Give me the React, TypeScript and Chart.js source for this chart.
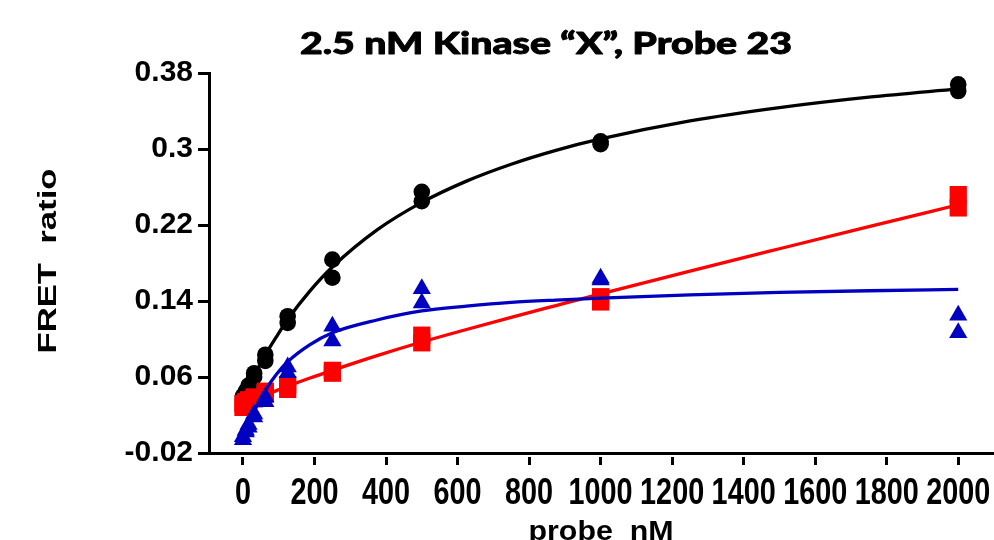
import React, { useEffect, useRef } from 'react';
import { Chart, registerables } from 'chart.js';

Chart.register(...registerables);

const chartTitle = '2.5 nM Kinase “X”, Probe 23';
const yAxisTitle = 'FRET  ratio';
const xAxisTitle = 'probe  nM';

// probe concentrations (nM)
const probeNM = [0, 7.8, 15.6, 31.25, 62.5, 125, 250, 500, 1000, 2000];

// replicate measurements (FRET ratio)
const blackRep1 = [0.040, 0.045, 0.051, 0.064, 0.0835, 0.124, 0.1835, 0.255, 0.308, 0.368];
const blackRep2 = [0.038, 0.043, 0.048, 0.060, 0.077, 0.117, 0.1645, 0.245, 0.305, 0.361];
const redRep1 = [0.032, 0.034, 0.036, 0.039, 0.045, 0.052, 0.067, 0.104, 0.1445, 0.252];
const redRep2 = [0.028, 0.031, 0.033, 0.037, 0.042, 0.047, 0.064, 0.096, 0.139, 0.238];
const blueRep1 = [-0.003, 0.004, 0.010, 0.021, 0.039, 0.0706, 0.1135, 0.153, 0.164, 0.125];
const blueRep2 = [-0.006, 0.002, 0.007, 0.018, 0.034, 0.0645, 0.098, 0.138, 0.162, 0.1066];

// fitted curves
const curveX = [0, 15.6, 31.25, 62.5, 93.75, 125, 187.5, 250, 375, 500, 625, 750, 875, 1000, 1250, 1500, 1750, 2000];
const blackCurve = [0.036, 0.0489, 0.0611, 0.0832, 0.1025, 0.1205, 0.1507, 0.1758, 0.2148, 0.2438, 0.2662, 0.284, 0.2986, 0.3106, 0.3295, 0.3436, 0.3546, 0.3633];
const redCurve = [0.032, 0.0343, 0.0366, 0.0412, 0.0457, 0.0503, 0.0589, 0.067, 0.0825, 0.0968, 0.1100, 0.1228, 0.1352, 0.1475, 0.1715, 0.195, 0.2183, 0.2413];
const blueCurve = [-0.007, 0.010, 0.024, 0.046, 0.063, 0.076, 0.094, 0.1065, 0.120, 0.1295, 0.1345, 0.1385, 0.141, 0.143, 0.1465, 0.149, 0.1508, 0.1522];

const xTickValues = [0, 200, 400, 600, 800, 1000, 1200, 1400, 1600, 1800, 2000];
const xTickLabels = ['0', '200', '400', '600', '800', '1000', '1200', '1400', '1600', '1800', '2000'];
const yTickValues = [-0.02, 0.06, 0.14, 0.22, 0.3, 0.38];
const yTickLabels = ['-0.02', '0.06', '0.14', '0.22', '0.3', '0.38'];

const BLACK = '#000000';
const RED = '#ff0000';
const BLUE = '#0000c0';

const pts = (xs: number[], ys: number[]) => xs.map((x, i) => ({ x, y: ys[i] }));

const textPlugin = {
  id: 'customTexts',
  afterDraw(chart: any) {
    const ctx: CanvasRenderingContext2D = chart.ctx;
    const draw = (text: string, font: string, x: number, y: number, sx: number, rot: boolean, w?: number, stroke?: number) => {
      ctx.save();
      ctx.font = font;
      ctx.fillStyle = '#000';
      ctx.strokeStyle = '#000';
      ctx.textAlign = 'center';
      ctx.textBaseline = 'alphabetic';
      ctx.translate(x, y);
      if (rot) ctx.rotate(-Math.PI / 2);
      let s = sx;
      if (w) s = w / ctx.measureText(text).width;
      ctx.scale(s, 1);
      ctx.fillText(text, 0, 0);
      if (stroke) {
        ctx.lineWidth = stroke;
        ctx.lineJoin = 'round';
        ctx.strokeText(text, 0, 0);
      }
      ctx.restore();
    };
    draw(chartTitle, '900 31px Lato', 546, 54, 1, false, 492, 0.9);
    draw(yAxisTitle, 'bold 26px "Liberation Sans"', 55.5, 261, 1, true, 185);
    draw(xAxisTitle, 'bold 27px "Liberation Sans"', 601, 540, 1, false, 145);
    const xs = chart.scales.x;
    xTickValues.forEach((v, i) => {
      draw(xTickLabels[i], 'bold 36px "Liberation Sans"', xs.getPixelForValue(v), 504.3, 0.8, false);
    });
  },
};

export default function App() {
  const ref = useRef<HTMLCanvasElement>(null);
  useEffect(() => {
    if (!ref.current) return;
    const pointSet = (label: string, data: any[], color: string, style: string, radius: number) => ({
      label,
      data,
      showLine: false,
      pointStyle: style,
      pointRadius: radius,
      pointHoverRadius: radius,
      pointBackgroundColor: color,
      pointBorderColor: color,
      pointBorderWidth: 0,
      backgroundColor: color,
      borderColor: color,
    });
    const curveSet = (label: string, data: any[], color: string) => ({
      label,
      data,
      showLine: true,
      pointRadius: 0,
      borderColor: color,
      borderWidth: 3.3,
      cubicInterpolationMode: 'monotone',
      fill: false,
    });
    const chart = new Chart(ref.current, {
      type: 'scatter',
      data: {
        datasets: [
          pointSet('blue', [...pts(probeNM, blueRep1), ...pts(probeNM, blueRep2)], BLUE, 'triangle', 10.5),
          curveSet('blue fit', pts(curveX, blueCurve), BLUE),
          pointSet('red', [...pts(probeNM, redRep1), ...pts(probeNM, redRep2)], RED, 'rect', 12.2),
          curveSet('red fit', pts(curveX, redCurve), RED),
          pointSet('black', [...pts(probeNM, blackRep1), ...pts(probeNM, blackRep2)], BLACK, 'circle', 8.3),
          curveSet('black fit', pts(curveX, blackCurve), BLACK),
        ] as any,
      },
      options: {
        animation: false,
        responsive: false,
        events: [],
        layout: { autoPadding: false, padding: { top: 73, left: 0, right: 0, bottom: 0 } },
        plugins: {
          legend: { display: false },
          title: { display: false },
          tooltip: { enabled: false },
        },
        scales: {
          x: {
            type: 'linear',
            min: -95,
            max: 2100,
            afterBuildTicks: (scale: any) => {
              scale.ticks = xTickValues.map((v) => ({ value: v }));
            },
            afterFit: (scale: any) => {
              scale.height = 87;
              scale.paddingLeft = 0;
              scale.paddingRight = 0;
            },
            border: { display: true, color: '#000', width: 3 },
            grid: {
              drawOnChartArea: false,
              drawTicks: true,
              tickLength: 12,
              tickWidth: 3,
              tickColor: '#000',
              tickBorderDash: [10, 100],
              tickBorderDashOffset: 108,
            },
            ticks: { display: false, autoSkip: false, maxRotation: 0, minRotation: 0 },
          },
          y: {
            type: 'linear',
            min: -0.02,
            max: 0.38,
            afterBuildTicks: (scale: any) => {
              scale.ticks = yTickValues.map((v) => ({ value: v }));
            },
            afterFit: (scale: any) => {
              scale.width = 209;
            },
            border: { display: true, color: '#000', width: 3 },
            grid: {
              drawOnChartArea: false,
              drawTicks: true,
              tickLength: 11,
              tickWidth: 3,
              tickColor: '#000',
            },
            ticks: {
              color: '#000',
              padding: 5,
              autoSkip: false,
              font: { family: '"Liberation Sans", Arial', size: 30, weight: 'bold' },
              callback: (_v: any, i: number) => yTickLabels[i],
            },
          },
        },
      } as any,
      plugins: [textPlugin],
    });
    return () => chart.destroy();
  }, []);
  return (
    <div style={{ position: 'fixed', left: 0, top: 0, width: 994, height: 540, background: '#fff' }}>
      <canvas ref={ref} width={994} height={540} style={{ display: 'block' }} />
    </div>
  );
}
